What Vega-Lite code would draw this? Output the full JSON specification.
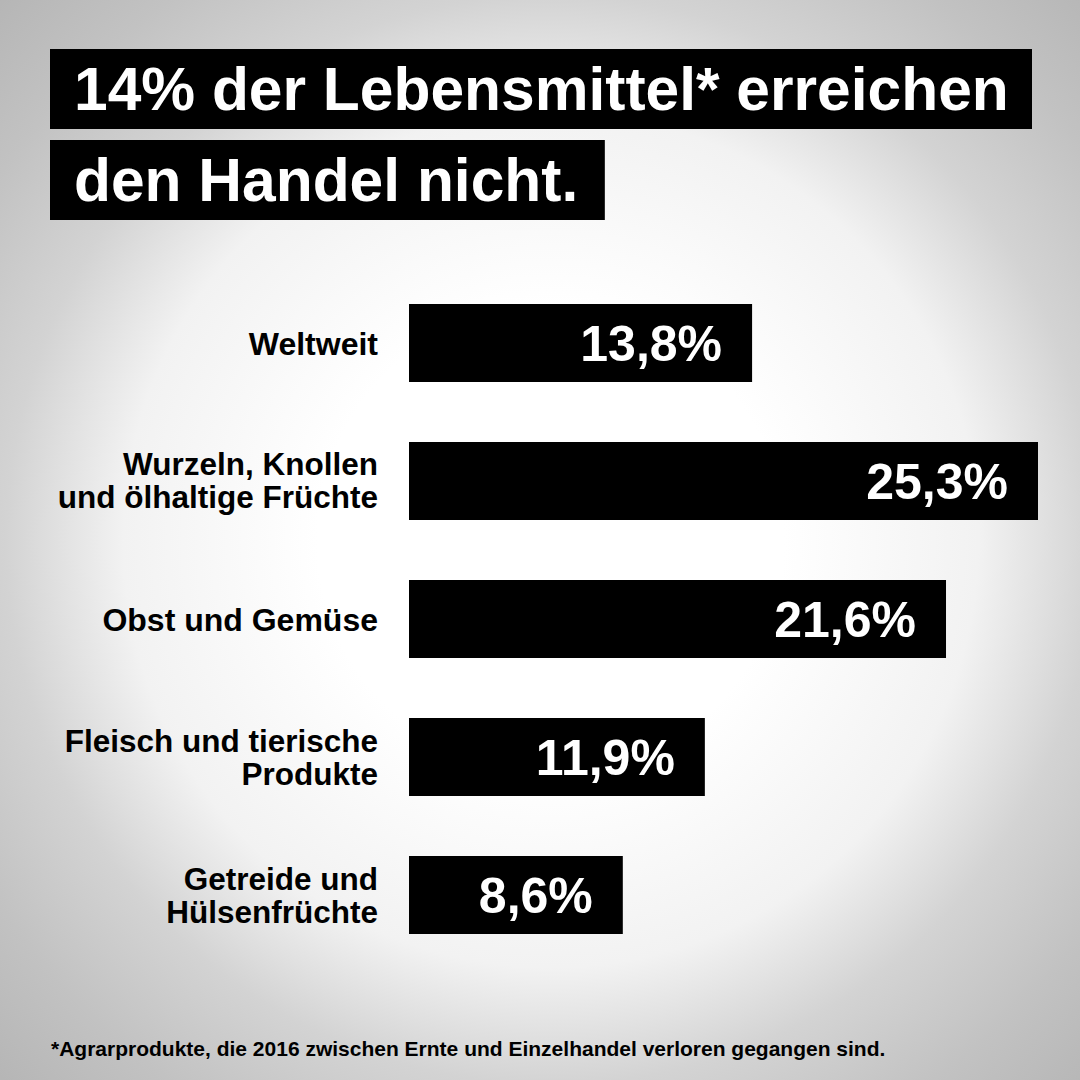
{
  "$schema": "https://vega.github.io/schema/vega-lite/v6.json",
  "width": 1080,
  "height": 1080,
  "padding": 0,
  "autosize": {"type": "none"},
  "background": "#ffffff",
  "config": {
    "font": "Liberation Sans",
    "view": {"stroke": null}
  },
  "title": {
    "text": "*Agrarprodukte, die 2016 zwischen Ernte und Einzelhandel verloren gegangen sind.",
    "orient": "bottom",
    "anchor": "start",
    "frame": "bounds",
    "offset": -41,
    "dx": 51,
    "font": "Liberation Sans",
    "fontSize": 21,
    "fontWeight": "bold",
    "color": "#000000"
  },
  "layer": [
    {
      "data": {"values": [{"hintergrund": "radial"}]},
      "mark": {
        "type": "rect",
        "color": {
          "gradient": "radial",
          "x1": 0.51, "y1": 0.5, "r1": 0,
          "x2": 0.51, "y2": 0.5, "r2": 0.72,
          "stops": [
            {"offset": 0, "color": "#ffffff"},
            {"offset": 0.3, "color": "#ffffff"},
            {"offset": 0.55, "color": "#f2f2f2"},
            {"offset": 0.7, "color": "#d3d3d3"},
            {"offset": 0.85, "color": "#c2c2c2"},
            {"offset": 1, "color": "#b5b5b5"}
          ]
        }
      }
    },
    {
      "data": {
        "values": [
          {"kategorie": "Weltweit", "anteil": 13.8},
          {"kategorie": "Wurzeln, Knollen\nund ölhaltige Früchte", "anteil": 25.3},
          {"kategorie": "Obst und Gemüse", "anteil": 21.6},
          {"kategorie": "Fleisch und tierische\nProdukte", "anteil": 11.9},
          {"kategorie": "Getreide und\nHülsenfrüchte", "anteil": 8.6}
        ]
      },
      "transform": [
        {"calculate": "replace(format(datum.anteil, '.1f'), '.', ',') + '%'", "as": "beschriftung"}
      ],
      "encoding": {
        "y": {
          "field": "kategorie",
          "type": "nominal",
          "sort": null,
          "scale": {"range": [304, 934], "paddingInner": 0.435, "paddingOuter": 0},
          "axis": null
        }
      },
      "layer": [
        {
          "mark": {"type": "bar", "color": "#000000"},
          "encoding": {
            "x": {
              "field": "anteil",
              "type": "quantitative",
              "scale": {"domain": [0, 25.3], "range": [409, 1038], "nice": false, "zero": true},
              "axis": null
            }
          }
        },
        {
          "mark": {
            "type": "text",
            "align": "right",
            "baseline": "middle",
            "dx": -30,
            "dy": 3,
            "font": "Liberation Sans",
            "fontSize": 50,
            "fontWeight": "bold",
            "color": "#ffffff"
          },
          "encoding": {
            "x": {"field": "anteil", "type": "quantitative"},
            "text": {"field": "beschriftung"}
          }
        },
        {
          "transform": [{"filter": "indexof(datum.kategorie, '\\n') < 0"}],
          "mark": {
            "type": "text",
            "align": "right",
            "baseline": "middle",
            "dx": -31,
            "dy": 2,
            "font": "Liberation Sans",
            "fontSize": 32,
            "fontWeight": "bold",
            "color": "#000000"
          },
          "encoding": {
            "x": {"datum": 0, "type": "quantitative"},
            "text": {"field": "kategorie"}
          }
        },
        {
          "transform": [{"filter": "indexof(datum.kategorie, '\\n') >= 0"}],
          "mark": {
            "type": "text",
            "align": "right",
            "baseline": "middle",
            "dx": -31,
            "dy": -14.5,
            "font": "Liberation Sans",
            "fontSize": 31.5,
            "fontWeight": "bold",
            "color": "#000000",
            "lineBreak": "\n",
            "lineHeight": 33
          },
          "encoding": {
            "x": {"datum": 0, "type": "quantitative"},
            "text": {"field": "kategorie"}
          }
        }
      ]
    },
    {
      "encoding": {
        "y": {
          "field": "zeile",
          "type": "nominal",
          "sort": null,
          "scale": {
            "domain": ["14% der Lebensmittel* erreichen", "den Handel nicht."],
            "range": [49, 220],
            "paddingInner": 0.121,
            "paddingOuter": 0
          },
          "axis": null
        }
      },
      "layer": [
        {
          "data": {"values": [{"zeile": "14% der Lebensmittel* erreichen"}]},
          "mark": {"type": "rect", "color": "#000000"},
          "encoding": {
            "x": {
              "datum": 0,
              "type": "quantitative",
              "scale": {"domain": [0, 1], "range": [50, 1032], "nice": false, "zero": false},
              "axis": null
            },
            "x2": {"datum": 1}
          }
        },
        {
          "data": {"values": [{"zeile": "den Handel nicht."}]},
          "mark": {"type": "rect", "color": "#000000"},
          "encoding": {
            "x": {"datum": 0, "type": "quantitative"},
            "x2": {"datum": 0.565}
          }
        },
        {
          "data": {"values": [{"zeile": "14% der Lebensmittel* erreichen"}, {"zeile": "den Handel nicht."}]},
          "mark": {
            "type": "text",
            "align": "left",
            "baseline": "middle",
            "dx": 24,
            "dy": 3,
            "font": "Liberation Sans",
            "fontSize": 60.5,
            "fontWeight": "bold",
            "color": "#ffffff"
          },
          "encoding": {
            "x": {"datum": 0, "type": "quantitative"},
            "text": {"field": "zeile"}
          }
        }
      ]
    }
  ],
  "resolve": {"scale": {"x": "independent", "y": "independent"}}
}
